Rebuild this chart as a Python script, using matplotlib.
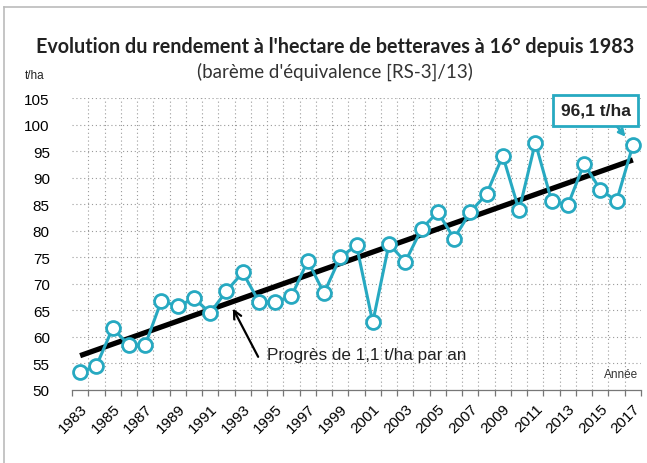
import numpy as np
import matplotlib
matplotlib.use('Agg')
import matplotlib.pyplot as plt
from matplotlib.lines import Line2D

# Data
years = list(range(1983, 2018))
rendement = [53.3, 54.5, 61.6, 58.4, 58.4, 66.8, 65.7, 67.2, 64.5, 68.6,
             72.1, 66.6, 66.6, 67.6, 74.3, 68.2, 75.0, 77.2, 62.7, 77.5,
             74.1, 80.3, 83.5, 78.5, 83.5, 86.9, 94.1, 83.8, 96.6, 85.6,
             84.8, 92.6, 87.7, 85.6, 96.1]
yticks = [50, 55, 60, 65, 70, 75, 80, 85, 90, 95, 100, 105]
label_years = years[::2]

teal = '#27a9c1'
grid_col = '#9a9a9a'

x = np.arange(len(years))
slope, intercept = np.polyfit(x, rendement, 1)
trend = slope * x + intercept

fig = plt.figure(figsize=(6.47, 4.64), dpi=100)
ax = fig.add_axes([72 / 647, 73.3 / 464, 569 / 647, 291.7 / 464])

# grid
for v in yticks[1:]:
    ax.axhline(v, color=grid_col, lw=0.8, ls=(0, (1, 2.5)), zorder=0)
for b in np.arange(0.5, len(years) - 0.5, 1):
    ax.axvline(b, color=grid_col, lw=0.8, ls=(0, (1, 2.5)), zorder=0)

ax.plot(x[[0, -1]], trend[[0, -1]], color='black', lw=3.8, solid_capstyle='butt', zorder=2)
ax.plot(x, rendement, color=teal, lw=2.2, marker='o', markersize=10,
        markerfacecolor='white', markeredgecolor=teal, markeredgewidth=2.0, zorder=3)

ax.set_xlim(-0.5, len(years) - 0.5)
ax.set_ylim(50, 105)
for s in ['top', 'right', 'left']:
    ax.spines[s].set_visible(False)
ax.spines['bottom'].set_color('#777777')
ax.spines['bottom'].set_linewidth(0.9)

ax.set_yticks(yticks)
ax.set_yticklabels([str(v) for v in yticks], fontsize=11, family='Liberation Sans')
ax.tick_params(axis='y', length=0, pad=16)

ax.set_xticks(np.arange(-0.5, len(years), 1), minor=True)
ax.tick_params(axis='x', which='minor', length=4, color='#777777', width=0.9)
ax.set_xticks([years.index(y) for y in label_years])
ax.set_xticklabels([str(y) for y in label_years], rotation=45, ha='right',
                   rotation_mode='anchor', fontsize=11, family='Liberation Sans')
ax.tick_params(axis='x', which='major', length=0, pad=8)

# annotations
ax.text(11.5, 56.7, 'Progrès de 1,1 t/ha par an', fontsize=12.3, family='Liberation Sans',
        color='#222222', va='center', ha='left')
ax.annotate('', xy=(9.4, 65.3), xytext=(10.95, 56.2),
            arrowprops=dict(arrowstyle='->', color='black', lw=1.6, mutation_scale=14,
                            shrinkA=0, shrinkB=0))
ax.text(34.3, 53.0, 'Année', fontsize=8.5, family='Liberation Sans', color='#333333',
        ha='right', va='center')
ax.annotate('96,1 t/ha', xy=(33.55, rendement[-1] + 1.6), xytext=(31.7, 102.7),
            fontsize=12.5, fontweight='bold', family='Liberation Sans', color='#222222',
            ha='center', va='center', annotation_clip=False,
            bbox=dict(boxstyle='square,pad=0.45', fc='white', ec=teal, lw=2),
            arrowprops=dict(arrowstyle='-|>', color=teal, lw=1.8, mutation_scale=10,
                            shrinkA=0, shrinkB=0, relpos=(0.7, 0.0)))

fig.text(0.518, 1 - 47 / 464, "Evolution du rendement à l'hectare de betteraves à 16° depuis 1983",
         ha='center', va='center', fontsize=14.2, fontweight='bold', family='Lato', color='#222222')
fig.text(0.518, 1 - 72 / 464, "(barème d'équivalence [RS-3]/13)",
         ha='center', va='center', fontsize=13.5, family='Lato', color='#333333')
fig.text(35 / 647, 1 - 76 / 464, 't/ha', ha='center', va='center', fontsize=8.5,
         family='Liberation Sans', color='#222222')

# outer frame (top and left edge)
fig.add_artist(Line2D([4 / 647, 1], [1 - 8 / 464, 1 - 8 / 464], color='#bbbbbb', lw=1.2,
                      transform=fig.transFigure))
fig.add_artist(Line2D([4 / 647, 4 / 647], [0, 1 - 8 / 464], color='#bbbbbb', lw=1.2,
                      transform=fig.transFigure))

fig.savefig('out.png', dpi=100)
